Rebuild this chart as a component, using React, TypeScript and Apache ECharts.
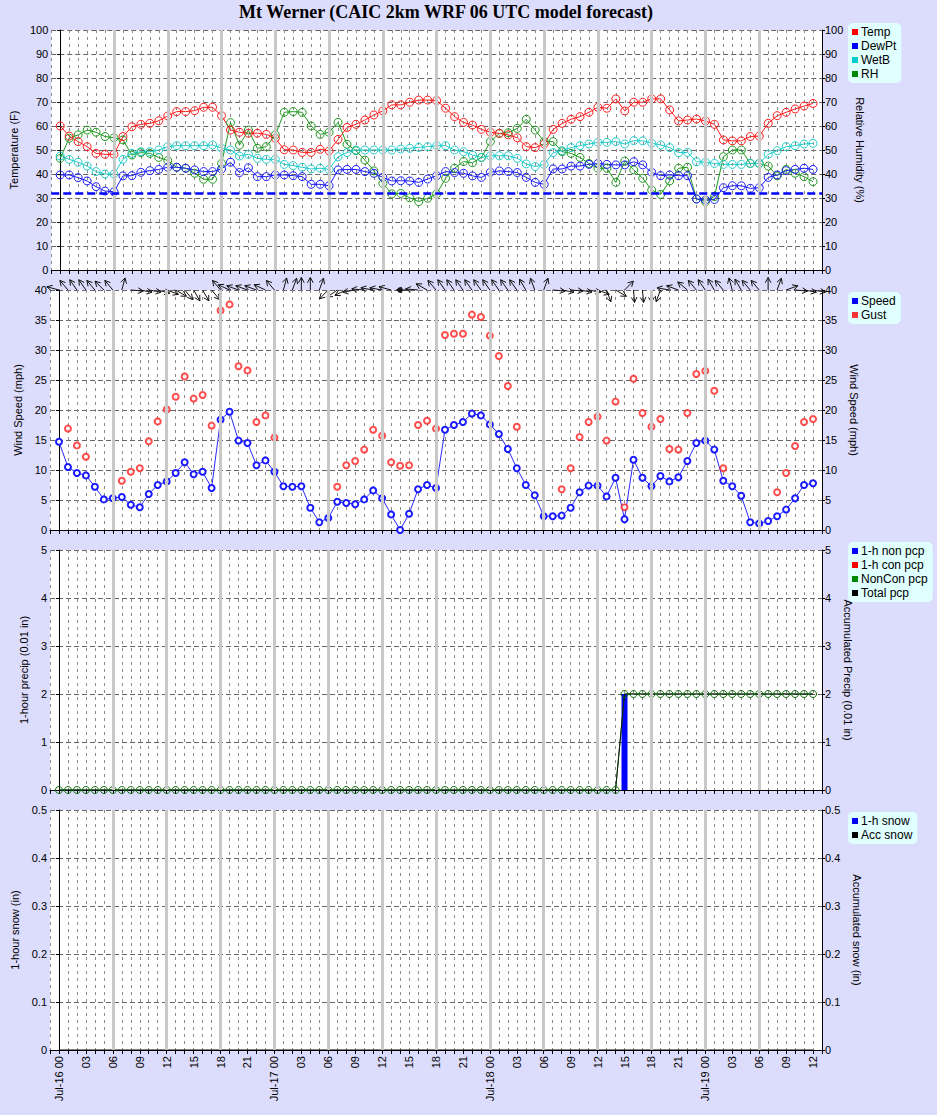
import React, { useEffect, useRef } from 'react';
import * as echarts from 'echarts';

const dayLabels = ['Jul-16', 'Jul-17', 'Jul-18', 'Jul-19'];
const sixHourMarks = [6, 12, 18, 24, 30, 36, 42, 48, 54, 60, 66, 72, 78];
const freezing = 32;

const temp = [60, 55.8, 53.5, 51.4, 48.6, 48.2, 48.2, 55.6, 59.7, 60.7, 61.1, 62.2, 64.2, 66, 66, 66.4, 67.8, 67.8, 64.3, 58.3, 57.4, 57, 57, 56.5, 54.9, 50.1, 50, 49, 49, 50.3, 49.6, 54.4, 59.4, 60.7, 62.5, 64.6, 66.3, 68.8, 68.8, 69.9, 70.8, 70.8, 70.6, 67.4, 63.9, 61.5, 60.4, 58.6, 57.4, 56.9, 56.3, 55.1, 51.4, 51, 52.5, 58.6, 61.1, 62.8, 63.9, 65.7, 67.8, 67.4, 71.3, 66.3, 69.9, 69.9, 71.3, 71.3, 66.7, 62.1, 62.5, 62.9, 62.1, 60.7, 54.2, 53.8, 53.8, 55.6, 55.8, 61.1, 64.3, 65.7, 67.1, 68.3, 69.4];
const dewPt = [39.6, 39.6, 38.5, 37.1, 34.7, 32.9, 32.6, 39.2, 39.3, 40.7, 41.4, 41.9, 42.8, 42.8, 42.4, 41.7, 41, 41, 42.1, 44.9, 40.6, 42.6, 38.9, 38.9, 39.6, 39.6, 39.3, 38.9, 35.7, 35.7, 35.1, 41.7, 41.9, 41.9, 41, 40.3, 38.6, 37.1, 37.2, 37.1, 36.5, 37.9, 39.3, 41, 40.6, 40.3, 39.2, 38.6, 40.7, 41.3, 41, 40.6, 38.6, 36.5, 35.7, 42.1, 42.1, 43.3, 43.3, 44, 44.4, 44, 43.8, 43.8, 45.1, 43.8, 40.7, 39.3, 39.6, 39.3, 39.3, 29.6, 29.2, 29.4, 34.3, 35.1, 35.1, 34, 34.3, 38.6, 39.6, 41.4, 41.9, 42.4, 41.9];
const wetB = [47.5, 46.1, 44.9, 43.3, 41, 40, 40, 46.1, 48.6, 49.3, 49.3, 50, 51.4, 51.8, 51.8, 51.8, 51.8, 52.1, 50.7, 50, 47.5, 48.2, 46.5, 46.1, 46.1, 44, 43.5, 42.8, 42.1, 42.4, 41.9, 47.2, 48.9, 50, 50, 50, 50, 50, 50.4, 50.7, 51.1, 51.4, 51.8, 51.8, 50, 49.3, 47.9, 46.9, 47.6, 47.6, 47.6, 46.5, 44.2, 43.1, 44, 48.9, 49.7, 51, 51.8, 52.5, 53.2, 53.2, 53.5, 52.5, 53.9, 53.8, 52.8, 52.1, 51, 48.9, 49, 45.1, 44.9, 44.4, 44, 44, 44, 44.4, 44.4, 48.2, 49.7, 51.4, 51.8, 52.5, 52.8];
const rh = [46.5, 54.9, 56.3, 58.3, 57.4, 55.6, 55.1, 54.2, 47.9, 48.9, 48.6, 46.9, 45.6, 42.8, 42.4, 40.3, 37.8, 37.8, 44.4, 61.4, 52, 58.3, 50.7, 51.4, 56.3, 65.7, 66, 65.7, 60, 56.5, 57.4, 61.5, 52.4, 49.7, 45.8, 41.3, 36.1, 31.7, 31.9, 30.1, 28.5, 29.9, 31.7, 38.2, 42.4, 45.2, 44.7, 46.9, 53.5, 56.9, 57.2, 59, 62.8, 58.3, 53.5, 53.5, 49.3, 48.6, 46.9, 44.4, 42.4, 42.4, 36.5, 45.4, 41.7, 38.2, 33.3, 31.5, 37.1, 42.4, 42.8, 29.6, 28.5, 30.6, 47.2, 50, 50, 44.4, 44.4, 43.3, 39.2, 41.9, 40.3, 38.9, 36.8];

const windSpeed = [14.7, 10.5, 9.5, 9.1, 7.2, 5.1, 5.3, 5.5, 4.2, 3.8, 6, 7.5, 8.1, 9.5, 11.3, 9.3, 9.7, 7, 18.4, 19.7, 14.9, 14.5, 10.8, 11.6, 9.7, 7.3, 7.2, 7.3, 3.7, 1.3, 2, 4.7, 4.5, 4.3, 5.1, 6.6, 5.3, 2.6, 0, 2.7, 6.8, 7.5, 7, 16.7, 17.5, 18, 19.4, 19.1, 17.6, 16, 13.5, 10.3, 7.5, 5.8, 2.3, 2.3, 2.4, 3.7, 6.3, 7.4, 7.4, 5.6, 8.7, 1.8, 11.7, 8.7, 7.3, 9, 8.1, 8.8, 11.5, 14.5, 14.9, 13.4, 8.2, 7.3, 5.7, 1.3, 1.1, 1.5, 2.3, 3.4, 5.3, 7.5, 7.8];
const windGust = [null, 16.9, 14.1, 12.2, null, null, null, 8.2, 9.7, 10.3, 14.8, 18.1, 20.1, 22.2, 25.6, 21.9, 22.5, 17.4, 36.6, 37.6, 27.3, 26.6, 18, 19.1, 15.4, null, null, null, null, null, null, 7.2, 10.8, 11.5, 13.4, 16.7, 15.7, 11.3, 10.7, 10.8, 17.5, 18.2, 16.9, 32.5, 32.7, 32.7, 35.9, 35.5, 32.4, 29, 24, 17.2, null, null, null, null, 6.8, 10.3, 15.5, 18, 18.9, 14.9, 21.4, 3.8, 25.2, 19.5, 17.2, 18.5, 13.5, 13.4, 19.5, 26, 26.5, 23.2, 10.3, null, null, null, null, null, 6.3, 9.5, 14, 18, 18.5];
// arrow direction, degrees clockwise from up (direction the arrow points)
const windDir = [285, 320, 325, 325, 320, 315, 320, 15, 95, 100, 100, 105, 110, 120, 140, 150, 150, 140, 320, 295, 290, 290, 290, 295, 320, 15, 20, 0, 0, 20, 225, 235, 245, 260, 275, 280, 280, 285, 0, 270, 275, 300, 320, 325, 325, 325, 325, 325, 325, 325, 325, 325, 330, 340, 20, 95, 100, 95, 100, 100, 110, 160, 120, 45, 175, 175, 180, 200, 280, 290, 310, 320, 325, 330, 320, 345, 330, 320, 320, 0, 20, 70, 95, 100, 100];

const pcpNonConv1h = [0, 0, 0, 0, 0, 0, 0, 0, 0, 0, 0, 0, 0, 0, 0, 0, 0, 0, 0, 0, 0, 0, 0, 0, 0, 0, 0, 0, 0, 0, 0, 0, 0, 0, 0, 0, 0, 0, 0, 0, 0, 0, 0, 0, 0, 0, 0, 0, 0, 0, 0, 0, 0, 0, 0, 0, 0, 0, 0, 0, 0, 0, 0, 2, 0, 0, 0, 0, 0, 0, 0, 0, 0, 0, 0, 0, 0, 0, 0, 0, 0, 0, 0, 0, 0];
const pcpConv1h = [0, 0, 0, 0, 0, 0, 0, 0, 0, 0, 0, 0, 0, 0, 0, 0, 0, 0, 0, 0, 0, 0, 0, 0, 0, 0, 0, 0, 0, 0, 0, 0, 0, 0, 0, 0, 0, 0, 0, 0, 0, 0, 0, 0, 0, 0, 0, 0, 0, 0, 0, 0, 0, 0, 0, 0, 0, 0, 0, 0, 0, 0, 0, 0, 0, 0, 0, 0, 0, 0, 0, 0, 0, 0, 0, 0, 0, 0, 0, 0, 0, 0, 0, 0, 0];
const pcpNonConAcc = [0, 0, 0, 0, 0, 0, 0, 0, 0, 0, 0, 0, 0, 0, 0, 0, 0, 0, 0, 0, 0, 0, 0, 0, 0, 0, 0, 0, 0, 0, 0, 0, 0, 0, 0, 0, 0, 0, 0, 0, 0, 0, 0, 0, 0, 0, 0, 0, 0, 0, 0, 0, 0, 0, 0, 0, 0, 0, 0, 0, 0, 0, 0, 2, 2, 2, 2, 2, 2, 2, 2, 2, 2, 2, 2, 2, 2, 2, 2, 2, 2, 2, 2, 2, 2];
const pcpTotalAcc = [0, 0, 0, 0, 0, 0, 0, 0, 0, 0, 0, 0, 0, 0, 0, 0, 0, 0, 0, 0, 0, 0, 0, 0, 0, 0, 0, 0, 0, 0, 0, 0, 0, 0, 0, 0, 0, 0, 0, 0, 0, 0, 0, 0, 0, 0, 0, 0, 0, 0, 0, 0, 0, 0, 0, 0, 0, 0, 0, 0, 0, 0, 0, 2, 2, 2, 2, 2, 2, 2, 2, 2, 2, 2, 2, 2, 2, 2, 2, 2, 2, 2, 2, 2, 2];
const snow1h = [0, 0, 0, 0, 0, 0, 0, 0, 0, 0, 0, 0, 0, 0, 0, 0, 0, 0, 0, 0, 0, 0, 0, 0, 0, 0, 0, 0, 0, 0, 0, 0, 0, 0, 0, 0, 0, 0, 0, 0, 0, 0, 0, 0, 0, 0, 0, 0, 0, 0, 0, 0, 0, 0, 0, 0, 0, 0, 0, 0, 0, 0, 0, 0, 0, 0, 0, 0, 0, 0, 0, 0, 0, 0, 0, 0, 0, 0, 0, 0, 0, 0, 0, 0, 0];
const snowAcc = [0, 0, 0, 0, 0, 0, 0, 0, 0, 0, 0, 0, 0, 0, 0, 0, 0, 0, 0, 0, 0, 0, 0, 0, 0, 0, 0, 0, 0, 0, 0, 0, 0, 0, 0, 0, 0, 0, 0, 0, 0, 0, 0, 0, 0, 0, 0, 0, 0, 0, 0, 0, 0, 0, 0, 0, 0, 0, 0, 0, 0, 0, 0, 0, 0, 0, 0, 0, 0, 0, 0, 0, 0, 0, 0, 0, 0, 0, 0, 0, 0, 0, 0, 0, 0];

const FONT = 'Liberation Sans';
const BG = '#dcdcfc';
const LEG_BG = '#e0ffff';
const C_RED = '#ff1a1a';
const C_BLUE = '#1a1aff';
const C_CYAN = '#22cccc';
const C_GREEN = '#1f9a1f';

const xy = (arr: (number | null)[]) => arr.map((v, i) => [i, v]);

function xAxisFor(gi: number, labels: boolean) {
  return {
    type: 'value', gridIndex: gi, min: -1, max: 85, interval: 1,
    axisLine: { show: true, onZero: false, lineStyle: { color: '#000', width: 1 } },
    axisTick: { show: true, length: 4, lineStyle: { color: '#000' } },
    axisLabel: labels
      ? {
          show: true, rotate: 90, margin: 6, fontSize: 11, fontFamily: FONT, color: '#000',
          formatter: (v: number) => {
            const h = Math.round(v);
            if (h < 0 || h > 84 || h % 3 !== 0) return '';
            const hh = h % 24;
            const hs = hh < 10 ? '0' + hh : String(hh);
            return hh === 0 ? dayLabels[h / 24] + ' ' + hs : hs;
          },
        }
      : { show: false },
    splitLine: { show: true, lineStyle: { color: '#8a8a8a', type: [3, 4], width: 1 } },
  };
}

function yAxisFor(gi: number, side: 'left' | 'right', max: number, interval: number, name: string, gap: number) {
  return {
    type: 'value', gridIndex: gi, position: side, min: 0, max, interval,
    name, nameLocation: 'middle', nameGap: gap, nameRotate: side === 'left' ? 90 : -90,
    nameTextStyle: { fontSize: 11, fontFamily: FONT, color: '#000' },
    axisLine: { show: true, lineStyle: { color: '#000', width: 1 } },
    axisTick: { show: true, length: 3, lineStyle: { color: '#000' } },
    axisLabel: { show: true, margin: 3, fontSize: 11, fontFamily: FONT, color: '#000' },
    splitLine: side === 'left'
      ? { show: true, lineStyle: { color: '#666', type: [5, 3], width: 1 } }
      : { show: false },
  };
}

function sixHourSeries(gi: number, extra?: any[]) {
  const data: any[] = sixHourMarks.map((v) => ({ xAxis: v, lineStyle: { color: '#c8c8c8', width: 3, type: 'solid' } }));
  if (extra) extra.forEach((e) => data.push(e));
  return {
    type: 'line', name: 'grid' + gi, xAxisIndex: gi, yAxisIndex: gi * 2, data: [], silent: true, z: 1,
    markLine: { silent: true, symbol: ['none', 'none'], label: { show: false }, animation: false, data },
  };
}

function legendFor(top: number, names: string[], colors: string[]) {
  return {
    orient: 'vertical', left: 848, top, padding: [2, 5, 2, 4],
    backgroundColor: LEG_BG, borderRadius: 5, itemGap: 0, itemWidth: 6, itemHeight: 6,
    icon: 'rect', selectedMode: false,
    textStyle: { fontSize: 12, fontFamily: FONT, color: '#000', lineHeight: 14, padding: [0, 0, 0, -2] },
    data: names.map((n, i) => ({ name: n, icon: 'rect', itemStyle: { color: colors[i], borderWidth: 0 } })),
  };
}

export default function App() {
  const ref = useRef<HTMLDivElement>(null);
  useEffect(() => {
    document.body.style.margin = '0';
    document.body.style.background = BG;
    const chart = echarts.init(ref.current!, null, { renderer: 'svg' });
    const lineCommon = (name: string, color: string, data: any[], x: number, y: number) => ({
      type: 'line', name, xAxisIndex: x, yAxisIndex: y, data, z: 3,
      symbol: 'circle', symbolSize: 8, showSymbol: true,
      lineStyle: { color, width: 1 },
      itemStyle: { color: 'rgba(0,0,0,0)', borderColor: color, borderWidth: 1 },
    });
    const option: any = {
      animation: false,
      backgroundColor: BG,
      graphic: [
        {
          type: 'text', x: 446, y: 12,
          style: {
            text: 'Mt Werner (CAIC 2km WRF 06 UTC model forecast)',
            fontSize: 18, fontWeight: 'bold', fontFamily: 'Liberation Serif', fill: '#000',
            textAlign: 'center', textVerticalAlign: 'middle', align: 'center', verticalAlign: 'middle',
          },
        },
      ],
      grid: [
        { left: 50, width: 772, top: 30, height: 240 },
        { left: 50, width: 772, top: 290, height: 240 },
        { left: 50, width: 772, top: 550, height: 240 },
        { left: 50, width: 772, top: 810, height: 240 },
      ].map((g) => ({ ...g, show: true, backgroundColor: '#fff', borderWidth: 0 })),
      xAxis: [xAxisFor(0, false), xAxisFor(1, false), xAxisFor(2, false), xAxisFor(3, true)],
      yAxis: [
        yAxisFor(0, 'left', 100, 10, 'Temperature (F)', 24),
        yAxisFor(0, 'right', 100, 10, 'Relative Humidity (%)', 28),
        yAxisFor(1, 'left', 40, 5, 'Wind Speed (mph)', 19),
        yAxisFor(1, 'right', 40, 5, 'Wind Speed (mph)', 22),
        yAxisFor(2, 'left', 5, 1, '1-hour precip (0.01 in)', 11),
        yAxisFor(2, 'right', 5, 1, 'Accumulated Precip (0.01 in)', 16),
        yAxisFor(3, 'left', 0.5, 0.1, '1-hour snow (in)', 22),
        yAxisFor(3, 'right', 0.5, 0.1, 'Accumulated snow (in)', 26),
      ],
      legend: [
        legendFor(23, ['Temp', 'DewPt', 'WetB', 'RH'], ['#ff0000', '#0000ff', '#00cccc', '#008800']),
        legendFor(292, ['Speed', 'Gust'], ['#0000ff', '#ff0000']),
        legendFor(542, ['1-h non pcp', '1-h con pcp', 'NonCon pcp', 'Total pcp'], ['#0000ff', '#ff0000', '#008800', '#000000']),
        legendFor(812, ['1-h snow', 'Acc snow'], ['#0000ff', '#000000']),
      ],
      series: [
        sixHourSeries(0, [{ yAxis: freezing, lineStyle: { color: '#0000ff', width: 2.5, type: [8, 4] } }]),
        sixHourSeries(1),
        sixHourSeries(2),
        sixHourSeries(3),
        lineCommon('RH', C_GREEN, xy(rh), 0, 1),
        lineCommon('WetB', C_CYAN, xy(wetB), 0, 0),
        lineCommon('DewPt', C_BLUE, xy(dewPt), 0, 0),
        lineCommon('Temp', C_RED, xy(temp), 0, 0),
        {
          type: 'line', name: 'Speed', xAxisIndex: 1, yAxisIndex: 2, data: xy(windSpeed), z: 3,
          symbol: 'emptyCircle', symbolSize: 6, lineStyle: { color: '#2a2aff', width: 1 },
          itemStyle: { color: '#1a1aff', borderColor: '#1a1aff', borderWidth: 2 },
        },
        {
          type: 'scatter', name: 'Gust', xAxisIndex: 1, yAxisIndex: 2, z: 3,
          data: xy(windGust).filter((d) => d[1] !== null),
          symbol: 'emptyCircle', symbolSize: 6,
          itemStyle: { color: '#ff2020', borderColor: '#ff2020', borderWidth: 2 },
        },
        {
          type: 'custom', name: 'dir', xAxisIndex: 1, yAxisIndex: 2, clip: false, silent: true, z: 4,
          data: windDir.map((d, i) => [i, 40, d, windSpeed[i]]),
          encode: { x: 0, y: 1 },
          renderItem: (params: any, api: any) => {
            const p = api.coord([api.value(0), api.value(1)]);
            const dir = api.value(2);
            const spd = api.value(3);
            if (spd === 0) {
              return { type: 'circle', shape: { cx: p[0], cy: p[1], r: 2.8 }, style: { fill: '#222' } };
            }
            const a = (dir * Math.PI) / 180;
            const L = 12.5;
            const ex = p[0] + L * Math.sin(a);
            const ey = p[1] - L * Math.cos(a);
            const hl = 6;
            const ha = 0.5;
            const b1 = [ex - hl * Math.sin(a - ha), ey + hl * Math.cos(a - ha)];
            const b2 = [ex - hl * Math.sin(a + ha), ey + hl * Math.cos(a + ha)];
            return {
              type: 'group',
              children: [
                { type: 'line', shape: { x1: p[0], y1: p[1], x2: ex, y2: ey }, style: { stroke: '#111', lineWidth: 1 } },
                { type: 'polyline', shape: { points: [b1, [ex, ey], b2] }, style: { stroke: '#111', lineWidth: 1, fill: null } },
              ],
            };
          },
        },
        {
          type: 'bar', name: '1-h non pcp', xAxisIndex: 2, yAxisIndex: 4, data: xy(pcpNonConv1h), barWidth: 6, z: 3,
          itemStyle: { color: '#0000ff' },
        },
        {
          type: 'bar', name: '1-h con pcp', xAxisIndex: 2, yAxisIndex: 4, data: xy(pcpConv1h), barWidth: 6, z: 3,
          barGap: '-100%', itemStyle: { color: '#ff0000' },
        },
        {
          type: 'line', name: 'NonCon pcp', xAxisIndex: 2, yAxisIndex: 5, data: xy(pcpNonConAcc), z: 4,
          symbol: 'circle', symbolSize: 7, lineStyle: { color: '#0a5a0a', width: 1 },
          itemStyle: { color: 'rgba(0,0,0,0)', borderColor: '#0a6a0a', borderWidth: 1 },
        },
        {
          type: 'line', name: 'Total pcp', xAxisIndex: 2, yAxisIndex: 5, data: xy(pcpTotalAcc), z: 4,
          symbol: 'none', lineStyle: { color: '#102010', width: 1 },
        },
        {
          type: 'bar', name: '1-h snow', xAxisIndex: 3, yAxisIndex: 6, data: xy(snow1h), barWidth: 6, z: 3,
          itemStyle: { color: '#0000ff' },
        },
        {
          type: 'line', name: 'Acc snow', xAxisIndex: 3, yAxisIndex: 7, data: xy(snowAcc), z: 3,
          symbol: 'none', lineStyle: { color: '#000', width: 1 },
        },
      ],
    };
    chart.setOption(option);
    return () => chart.dispose();
  }, []);
  return <div ref={ref} style={{ width: 937, height: 1115 }} />;
}
